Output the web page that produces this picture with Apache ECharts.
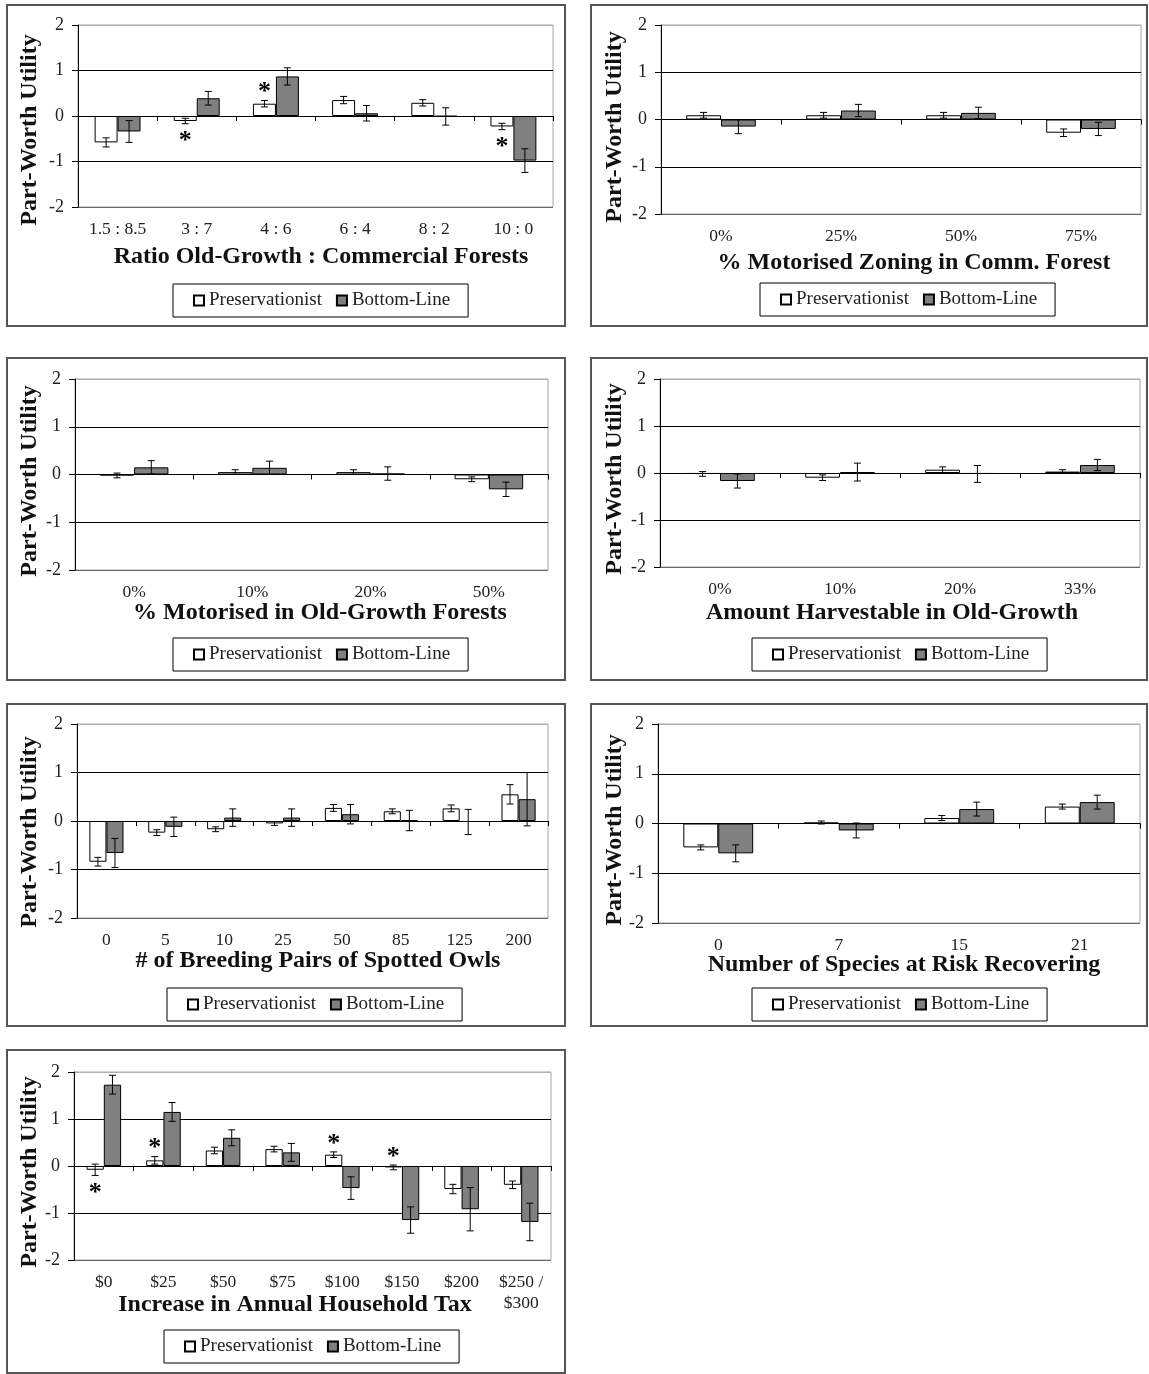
<!DOCTYPE html>
<html><head><meta charset="utf-8">
<script src="https://cdn.jsdelivr.net/npm/echarts@6/dist/echarts.min.js"></script>
<style>html,body{margin:0;padding:0;background:#fff;} #c{width:1149px;height:1374px;}</style>
</head><body><div id="c"></div>
<script>
// ---------- DATA ----------
const seriesNames = ['Preservationist', 'Bottom-Line'];
const yAxisName = 'Part-Worth Utility';

const ratioCats = ['1.5 : 8.5', '3 : 7', '4 : 6', '6 : 4', '8 : 2', '10 : 0'];
const ratioPres = [-0.58, -0.11, 0.27, 0.35, 0.29, -0.23];
const ratioPresErr = [0.10, 0.06, 0.07, 0.08, 0.07, 0.07];
const ratioBottom = [-0.34, 0.39, 0.87, 0.06, -0.01, -0.98];
const ratioBottomErr = [0.24, 0.15, 0.19, 0.17, 0.19, 0.26];
const ratioStars = [0, -1, 1, 0, 0, -1];

const zoningCats = ['0%', '25%', '50%', '75%'];
const zoningPres = [0.09, 0.09, 0.09, -0.28];
const zoningPresErr = [0.06, 0.06, 0.06, 0.08];
const zoningBottom = [-0.15, 0.19, 0.14, -0.20];
const zoningBottomErr = [0.15, 0.13, 0.12, 0.14];
const zoningStars = [0, 0, 0, 0];

const motorCats = ['0%', '10%', '20%', '50%'];
const motorPres = [-0.02, 0.05, 0.05, -0.10];
const motorPresErr = [0.05, 0.05, 0.05, 0.05];
const motorBottom = [0.15, 0.14, 0.02, -0.31];
const motorBottomErr = [0.14, 0.14, 0.14, 0.15];
const motorStars = [0, 0, 0, 0];

const harvestCats = ['0%', '10%', '20%', '33%'];
const harvestPres = [-0.02, -0.10, 0.07, 0.03];
const harvestPresErr = [0.05, 0.06, 0.06, 0.04];
const harvestBottom = [-0.17, 0.02, -0.02, 0.17];
const harvestBottomErr = [0.15, 0.19, 0.18, 0.12];
const harvestStars = [0, 0, 0, 0];

const owlCats = ['0', '5', '10', '25', '50', '85', '125', '200'];
const owlPres = [-0.84, -0.24, -0.17, -0.05, 0.27, 0.20, 0.26, 0.55];
const owlPresErr = [0.09, 0.06, 0.05, 0.04, 0.07, 0.05, 0.07, 0.20];
const owlBottom = [-0.66, -0.12, 0.07, 0.07, 0.14, 0.01, -0.02, 0.45];
const owlBottomErr = [0.30, 0.20, 0.18, 0.18, 0.20, 0.21, 0.26, 0.55];
const owlStars = [0, 0, 0, 0, 0, 0, 0, 0];

const speciesCats = ['0', '7', '15', '21'];
const speciesPres = [-0.48, 0.02, 0.11, 0.34];
const speciesPresErr = [0.05, 0.03, 0.05, 0.05];
const speciesBottom = [-0.60, -0.14, 0.29, 0.43];
const speciesBottomErr = [0.17, 0.15, 0.14, 0.14];
const speciesStars = [0, 0, 0, 0];

const taxCats = ['$0', '$25', '$50', '$75', '$100', '$150', '$200', '$250 /\n$300'];
const taxPres = [-0.08, 0.12, 0.33, 0.36, 0.24, -0.03, -0.49, -0.40];
const taxPresErr = [0.12, 0.08, 0.07, 0.06, 0.06, 0.05, 0.10, 0.08];
const taxBottom = [1.73, 1.15, 0.60, 0.29, -0.47, -1.15, -0.92, -1.19];
const taxBottomErr = [0.20, 0.20, 0.17, 0.19, 0.24, 0.28, 0.46, 0.40];
const taxStars = [-1, 1, 0, 0, 1, 1, 0, 0];

// ---------- LAYOUT ----------
const SERIF = '"Liberation Serif", "Times New Roman", serif';
const panels = [
  {cats: ratioCats, pres: ratioPres, presErr: ratioPresErr, bottom: ratioBottom, bottomErr: ratioBottomErr, stars: ratioStars,
   title: 'Ratio Old-Growth : Commercial Forests', frame: [7, 5, 558, 321], grid: [78, 25, 475, 182], titleXY: [321, 257], yNameXY: [30, 130], legendXY: [173, 284]},
  {cats: zoningCats, pres: zoningPres, presErr: zoningPresErr, bottom: zoningBottom, bottomErr: zoningBottomErr, stars: zoningStars,
   title: '% Motorised Zoning in Comm. Forest', frame: [591, 5, 556, 321], grid: [661, 25, 480, 189], titleXY: [914, 263], yNameXY: [615, 127], legendXY: [760, 283]},
  {cats: motorCats, pres: motorPres, presErr: motorPresErr, bottom: motorBottom, bottomErr: motorBottomErr, stars: motorStars,
   title: '% Motorised in Old-Growth Forests', frame: [7, 358, 558, 322], grid: [75, 379, 473, 191], titleXY: [320, 613], yNameXY: [30, 481], legendXY: [173, 638]},
  {cats: harvestCats, pres: harvestPres, presErr: harvestPresErr, bottom: harvestBottom, bottomErr: harvestBottomErr, stars: harvestStars,
   title: 'Amount Harvestable in Old-Growth', frame: [591, 358, 556, 322], grid: [660, 379, 480, 188], titleXY: [892, 613], yNameXY: [615, 479], legendXY: [752, 638]},
  {cats: owlCats, pres: owlPres, presErr: owlPresErr, bottom: owlBottom, bottomErr: owlBottomErr, stars: owlStars,
   title: '# of Breeding Pairs of Spotted Owls', frame: [7, 704, 558, 322], grid: [77, 724, 471, 194], titleXY: [318, 961], yNameXY: [30, 832], legendXY: [167, 988]},
  {cats: speciesCats, pres: speciesPres, presErr: speciesPresErr, bottom: speciesBottom, bottomErr: speciesBottomErr, stars: speciesStars,
   title: 'Number of Species at Risk Recovering', frame: [591, 704, 556, 322], grid: [658, 724, 482, 199], titleXY: [904, 965], yNameXY: [615, 830], legendXY: [752, 988]},
  {cats: taxCats, pres: taxPres, presErr: taxPresErr, bottom: taxBottom, bottomErr: taxBottomErr, stars: taxStars,
   title: 'Increase in Annual Household Tax', frame: [7, 1050, 558, 323], grid: [74, 1072, 477, 188], titleXY: [295, 1305], yNameXY: [30, 1172], legendXY: [164, 1330]}
];

const HALF = 0.145; // bar centre offset as a fraction of category width

function renderErr(params, api) {
  const i = api.value(0), v = api.value(1), e = api.value(2), side = api.value(3);
  const catW = api.size([1, 0])[0];
  const x = api.coord([i, v])[0] + side * catW * HALF;
  const top = api.coord([i, v + e])[1];
  const bot = api.coord([i, v - e])[1];
  const cap = 3.5;
  const st = {stroke: '#000', lineWidth: 1};
  return {type: 'group', children: [
    {type: 'line', shape: {x1: x, y1: top, x2: x, y2: bot}, style: st},
    {type: 'line', shape: {x1: x - cap, y1: top, x2: x + cap, y2: top}, style: st},
    {type: 'line', shape: {x1: x - cap, y1: bot, x2: x + cap, y2: bot}, style: st}
  ]};
}

function renderStar(params, api) {
  const i = api.value(0), v = api.value(1), e = api.value(2), dir = api.value(3);
  const catW = api.size([1, 0])[0];
  const x = api.coord([i, 0])[0] - catW * HALF;
  const yEnd = api.coord([i, dir > 0 ? v + e : v - e])[1];
  const y = yEnd - dir * 13 + 5;
  return {type: 'text', x: x, y: y, style: {text: '*', font: 'bold 26px ' + SERIF, fill: '#000', align: 'center', verticalAlign: 'middle'}};
}

const option = {
  animation: false,
  backgroundColor: '#fff',
  grid: [], xAxis: [], yAxis: [], series: [], legend: [], graphic: []
};

panels.forEach((p, k) => {
  option.grid.push({left: p.grid[0], top: p.grid[1], width: p.grid[2], height: p.grid[3], show: true,
    borderColor: '#a6a6a6', borderWidth: 1, backgroundColor: 'transparent', containLabel: false});
  option.xAxis.push({gridIndex: k, type: 'category', data: p.cats, position: 'bottom',
    axisLine: {show: false, onZero: false}, axisTick: {show: false}, splitLine: {show: false},
    axisLabel: {interval: 0, margin: 12, fontFamily: SERIF, fontSize: 17.5, color: '#222', lineHeight: 21}});
  option.xAxis.push({gridIndex: k, type: 'category', data: p.cats, position: 'top',
    axisLine: {show: true, onZero: true, lineStyle: {color: '#000', width: 1}},
    axisTick: {show: true, inside: true, length: 5, lineStyle: {color: '#000'}},
    axisLabel: {show: false}, splitLine: {show: false}});
  option.yAxis.push({gridIndex: k, type: 'value', min: -2, max: 2, interval: 1,
    axisLine: {show: true, onZero: false, lineStyle: {color: '#000'}},
    axisTick: {show: true, length: 6, lineStyle: {color: '#000'}},
    axisLabel: {margin: 14, fontFamily: SERIF, fontSize: 18, color: '#222'},
    splitLine: {show: true, lineStyle: {color: ['#666', '#000', '#000', '#000', '#b0b0b0'], width: 1}}});
  const xi = 2 * k;
  option.series.push({type: 'bar', name: seriesNames[0], xAxisIndex: xi, yAxisIndex: k, data: p.pres,
    barGap: '0%', barCategoryGap: '42%', itemStyle: {color: '#ffffff', borderColor: '#000', borderWidth: 1}});
  option.series.push({type: 'bar', name: seriesNames[1], xAxisIndex: xi, yAxisIndex: k, data: p.bottom,
    barGap: '0%', barCategoryGap: '42%', itemStyle: {color: '#808080', borderColor: '#000', borderWidth: 1}});
  const errData = [];
  p.cats.forEach((c, i) => { errData.push([i, p.pres[i], p.presErr[i], -1]); errData.push([i, p.bottom[i], p.bottomErr[i], 1]); });
  option.series.push({type: 'custom', name: 'err' + k, xAxisIndex: xi, yAxisIndex: k, renderItem: renderErr, data: errData, z: 5, clip: false, silent: true});
  const starData = [];
  p.stars.forEach((s, i) => { if (s) starData.push([i, p.pres[i], p.presErr[i], s]); });
  if (starData.length) option.series.push({type: 'custom', name: 'star' + k, xAxisIndex: xi, yAxisIndex: k, renderItem: renderStar, data: starData, z: 6, clip: false, silent: true});

  option.legend.push({data: seriesNames, left: p.legendXY[0], top: p.legendXY[1], orient: 'horizontal',
    borderColor: '#000', borderWidth: 1, padding: [7, 18, 7, 20], itemWidth: 10, itemHeight: 10, itemGap: 14,
    icon: 'rect', selectedMode: false, backgroundColor: '#fff',
    textStyle: {fontFamily: SERIF, fontSize: 19, color: '#222'}});

  option.graphic.push({type: 'rect', silent: true, shape: {x: p.frame[0], y: p.frame[1], width: p.frame[2], height: p.frame[3]},
    style: {fill: 'none', stroke: '#555', lineWidth: 2}});
  option.graphic.push({type: 'text', silent: true, x: p.titleXY[0], y: p.titleXY[1],
    style: {text: p.title, font: 'bold 24px ' + SERIF, fill: '#111', align: 'center', verticalAlign: 'middle'}});
  option.graphic.push({type: 'text', silent: true, x: p.yNameXY[0], y: p.yNameXY[1], rotation: Math.PI / 2,
    style: {text: yAxisName, font: 'bold 24px ' + SERIF, fill: '#111', align: 'center', verticalAlign: 'middle'}});
});

const chart = echarts.init(document.getElementById('c'), null, {renderer: 'canvas'});
chart.setOption(option);
</script>
</body></html>
